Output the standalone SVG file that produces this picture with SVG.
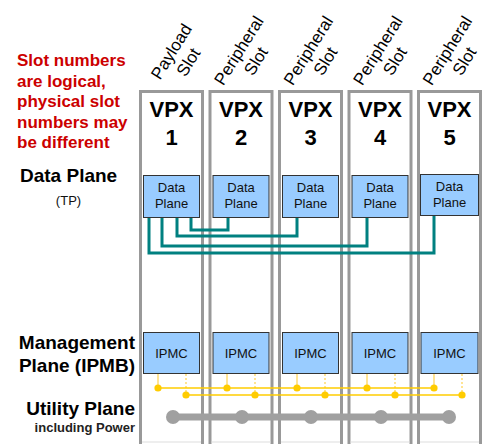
<svg xmlns="http://www.w3.org/2000/svg" width="487" height="444" viewBox="0 0 487 444">
<style>
text{font-family:"Liberation Sans",Arial,sans-serif}
.slot{fill:#fff;stroke:#999;stroke-width:3}
.inner{fill:none;stroke:#ddd;stroke-width:1}
.vpx{font-size:22px;font-weight:bold;text-anchor:middle;fill:#000}
.rot{font-size:17px;text-anchor:middle;fill:#000}
.box{fill:#99ccff;stroke:#333;stroke-width:1}
.bt{font-size:13px;text-anchor:middle;fill:#111}
.red{font-size:17px;font-weight:bold;fill:#cc0000}
.lab{font-size:19px;font-weight:bold;fill:#000}
.teal{fill:none;stroke:#008080;stroke-width:3}
.ybus{stroke:#ffcc00;stroke-width:1.5;fill:none}
.ystub{stroke:#ffd24d;stroke-width:1.2}
.ydash{stroke:#ffd24d;stroke-width:1.2;stroke-dasharray:2 2}
.ydot{fill:#ffcc00}
.gdot{fill:#a0a0a0}
</style>
<rect width="487" height="444" fill="#fff"/>
<g id="labels">
<text class="red" x="17" y="66">Slot numbers</text>
<text class="red" x="17" y="86.5">are logical,</text>
<text class="red" x="17" y="107">physical slot</text>
<text class="red" x="17" y="127.5">numbers may</text>
<text class="red" x="17" y="148">be different</text>
<text class="lab" x="20" y="182">Data Plane</text>
<text x="68.5" y="205" font-size="13" text-anchor="middle" fill="#111">(TP)</text>
<text class="lab" x="135" y="349" text-anchor="end">Management</text>
<text class="lab" x="135" y="372" text-anchor="end">Plane (IPMB)</text>
<text class="lab" x="135" y="415" text-anchor="end">Utility Plane</text>
<text x="135" y="432" font-size="13" font-weight="bold" text-anchor="end" fill="#222">including Power</text>
</g>
<g id="slot1">
<rect class="slot" x="140.5" y="91.5" width="62" height="370"/>
<line class="inner" x1="142" y1="442" x2="201" y2="442"/>
<text class="vpx" x="171.5" y="117">VPX</text><text class="vpx" x="171.5" y="145">1</text>
<g transform="translate(180,57) rotate(-58)"><text class="rot" y="-4.5">Payload</text><text class="rot" y="15.5">Slot</text></g>
</g>
<g id="slot2">
<rect class="slot" x="210" y="91.5" width="62" height="370"/>
<line class="inner" x1="211.5" y1="442" x2="270.5" y2="442"/>
<text class="vpx" x="241" y="117">VPX</text><text class="vpx" x="241" y="145">2</text>
<g transform="translate(247.5,56) rotate(-58)"><text class="rot" y="-4.5">Peripheral</text><text class="rot" y="15.5">Slot</text></g>
</g>
<g id="slot3">
<rect class="slot" x="279.5" y="91.5" width="62" height="370"/>
<line class="inner" x1="281" y1="442" x2="340" y2="442"/>
<text class="vpx" x="310.5" y="117">VPX</text><text class="vpx" x="310.5" y="145">3</text>
<g transform="translate(317,56) rotate(-58)"><text class="rot" y="-4.5">Peripheral</text><text class="rot" y="15.5">Slot</text></g>
</g>
<g id="slot4">
<rect class="slot" x="349" y="91.5" width="62" height="370"/>
<line class="inner" x1="350.5" y1="442" x2="409.5" y2="442"/>
<text class="vpx" x="380" y="117">VPX</text><text class="vpx" x="380" y="145">4</text>
<g transform="translate(386.5,56) rotate(-58)"><text class="rot" y="-4.5">Peripheral</text><text class="rot" y="15.5">Slot</text></g>
</g>
<g id="slot5">
<rect class="slot" x="418.5" y="91.5" width="62" height="370"/>
<line class="inner" x1="420" y1="442" x2="479" y2="442"/>
<text class="vpx" x="449.5" y="117">VPX</text><text class="vpx" x="449.5" y="145">5</text>
<g transform="translate(456,56) rotate(-58)"><text class="rot" y="-4.5">Peripheral</text><text class="rot" y="15.5">Slot</text></g>
</g>
<g id="dp1"><rect class="box" x="143.5" y="175.5" width="56" height="42"/><text class="bt" x="171.5" y="192">Data</text><text class="bt" x="171.5" y="208">Plane</text></g>
<g id="dp2"><rect class="box" x="213" y="175.5" width="56" height="42"/><text class="bt" x="241" y="192">Data</text><text class="bt" x="241" y="208">Plane</text></g>
<g id="dp3"><rect class="box" x="282.5" y="175.5" width="56" height="42"/><text class="bt" x="310.5" y="192">Data</text><text class="bt" x="310.5" y="208">Plane</text></g>
<g id="dp4"><rect class="box" x="352" y="175.5" width="56" height="42"/><text class="bt" x="380" y="192">Data</text><text class="bt" x="380" y="208">Plane</text></g>
<g id="dp5"><rect class="box" x="420.5" y="174.5" width="58" height="41"/><text class="bt" x="449.5" y="191">Data</text><text class="bt" x="449.5" y="207">Plane</text></g>
<g id="ipmc1"><rect class="box" x="143.5" y="332.5" width="56" height="41"/><text class="bt" x="171.5" y="357.5">IPMC</text></g>
<g id="ipmc2"><rect class="box" x="213" y="332.5" width="56" height="41"/><text class="bt" x="241" y="357.5">IPMC</text></g>
<g id="ipmc3"><rect class="box" x="282.5" y="332.5" width="56" height="41"/><text class="bt" x="310.5" y="357.5">IPMC</text></g>
<g id="ipmc4"><rect class="box" x="352" y="332.5" width="56" height="41"/><text class="bt" x="380" y="357.5">IPMC</text></g>
<g id="ipmc5"><rect class="box" x="421" y="332.5" width="57" height="41"/><text class="bt" x="449.5" y="357.5">IPMC</text></g>
<g id="connectors">
<polyline class="teal" points="191,218 191,230 228,230 228,218"/>
<polyline class="teal" points="177,218 177,236 297,236 297,218"/>
<polyline class="teal" points="162,218 162,246 367,246 367,218"/>
<polyline class="teal" points="149,218 149,253 434,253 434,216"/>
<g>
<line class="ystub" x1="158" y1="374" x2="158" y2="388"/>
<line class="ystub" x1="227" y1="374" x2="227" y2="388"/>
<line class="ystub" x1="297" y1="374" x2="297" y2="388"/>
<line class="ystub" x1="367" y1="374" x2="367" y2="388"/>
<line class="ystub" x1="434" y1="374" x2="434" y2="388"/>
<line class="ydash" x1="186" y1="374" x2="186" y2="395"/>
<line class="ydash" x1="255" y1="374" x2="255" y2="395"/>
<line class="ydash" x1="325" y1="374" x2="325" y2="395"/>
<line class="ydash" x1="395" y1="374" x2="395" y2="395"/>
<line class="ydash" x1="462" y1="374" x2="462" y2="395"/>
<line class="ybus" x1="158" y1="388" x2="434" y2="388"/>
<line class="ybus" x1="186" y1="395" x2="462" y2="395"/>
<circle class="ydot" cx="158" cy="388" r="3.6"/><circle class="ydot" cx="227" cy="388" r="3.6"/><circle class="ydot" cx="297" cy="388" r="3.6"/><circle class="ydot" cx="367" cy="388" r="3.6"/><circle class="ydot" cx="434" cy="388" r="3.6"/>
<circle class="ydot" cx="186" cy="395" r="3.6"/><circle class="ydot" cx="255" cy="395" r="3.6"/><circle class="ydot" cx="325" cy="395" r="3.6"/><circle class="ydot" cx="395" cy="395" r="3.6"/><circle class="ydot" cx="462" cy="395" r="3.6"/>
</g>
<g>
<line x1="173" y1="417" x2="449" y2="417" stroke="#a0a0a0" stroke-width="7"/>
<circle class="gdot" cx="173" cy="417" r="7"/><circle class="gdot" cx="242" cy="417" r="7"/><circle class="gdot" cx="311" cy="417" r="7"/><circle class="gdot" cx="381" cy="417" r="7"/><circle class="gdot" cx="449" cy="417" r="7"/>
</g>
</g>
</svg>
